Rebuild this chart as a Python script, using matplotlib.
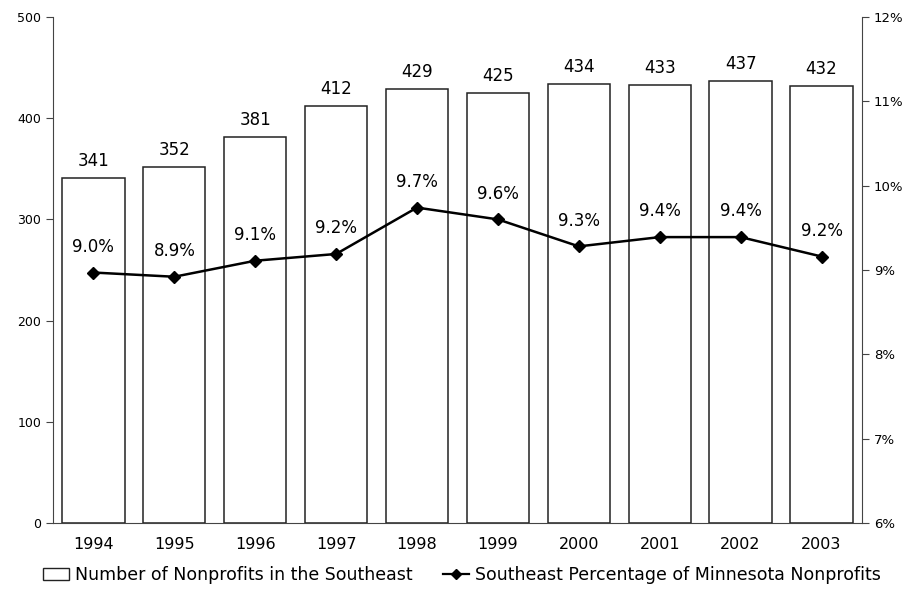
import numpy as np
import matplotlib
matplotlib.use("Agg")
import matplotlib.pyplot as plt
from matplotlib.patches import Patch
from matplotlib.lines import Line2D

plt.rcParams['font.family'] = ['DejaVu Sans']

years = ["1994", "1995", "1996", "1997", "1998", "1999", "2000", "2001", "2002", "2003"]
counts = [341, 352, 381, 412, 429, 425, 434, 433, 437, 432]
pct = [8.97, 8.92, 9.11, 9.19, 9.74, 9.60, 9.28, 9.39, 9.39, 9.16]

x = np.arange(len(years))

fig = plt.figure(figsize=(9.04, 6.0), dpi=100)
ax = fig.add_axes([0.0586, 0.1283, 0.8949, 0.8434])
ax.bar(x, counts, width=0.77, color="white", edgecolor="#222222", linewidth=1.1, zorder=2)
for xi, c in zip(x, counts):
    ax.text(xi, c + 8, str(c), ha="center", va="bottom", fontsize=12)

ax.set_xlim(-0.5, 9.5)
ax.set_ylim(0, 500)
ax.set_yticks([0, 100, 200, 300, 400, 500])
ax.set_xticks(x)
ax.set_xticklabels(years, fontsize=11.5)
ax.tick_params(axis="x", length=0, pad=10)
ax.tick_params(axis="y", labelsize=9, length=5, direction="out", color="#444444")
for s in ["top", "right"]:
    ax.spines[s].set_visible(False)
ax.spines["left"].set_color("#444444")
ax.spines["bottom"].set_color("#444444")

ax2 = ax.twinx()
ax2.plot(x, pct, color="black", linewidth=1.8, marker="D", markersize=6, zorder=3)
for xi, p in zip(x, pct):
    ax2.text(xi, p + 0.2, f"{p:.1f}%", ha="center", va="bottom", fontsize=12)
ax2.set_ylim(6, 12)
ax2.set_yticks([6, 7, 8, 9, 10, 11, 12])
ax2.set_yticklabels([f"{v}%" for v in range(6, 13)])
ax2.tick_params(axis="y", labelsize=9.5, length=5, direction="out", color="#444444")
for s in ["top", "left", "bottom"]:
    ax2.spines[s].set_visible(False)
ax2.spines["right"].set_color("#444444")

handles = [Patch(facecolor="white", edgecolor="#222222", linewidth=1.0),
           Line2D([0], [0], color="black", linewidth=1.6, marker="D", markersize=5)]
labels = ["Number of Nonprofits in the Southeast", "Southeast Percentage of Minnesota Nonprofits"]
fig.legend(handles, labels, loc="lower center", bbox_to_anchor=(0.511, 0.0), ncol=2,
           frameon=False, fontsize=12.5, handlelength=1.5, handleheight=0.7,
           handletextpad=0.3, columnspacing=1.8)

fig.savefig("out.png", dpi=100)
